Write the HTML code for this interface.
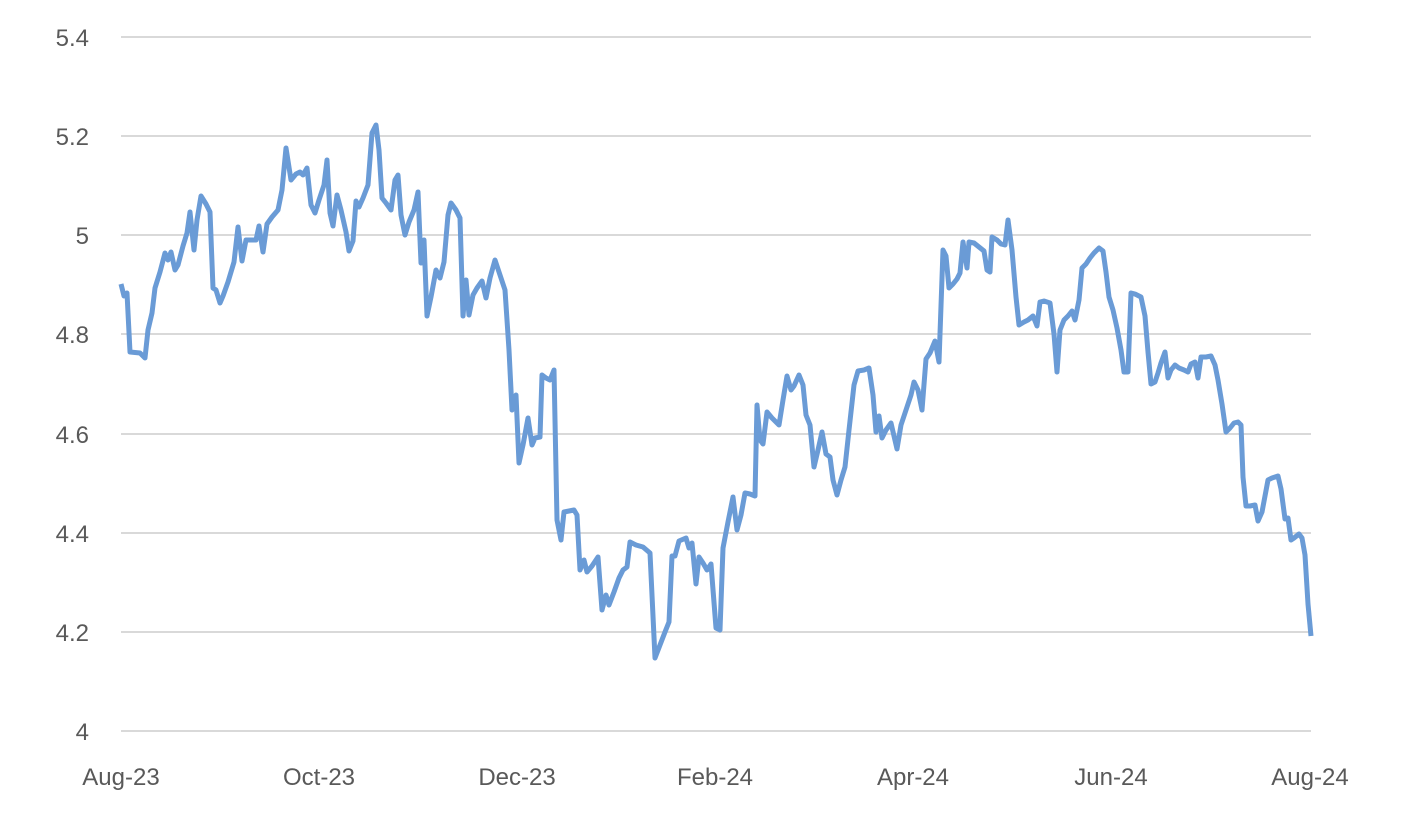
<!DOCTYPE html>
<html><head><meta charset="utf-8"><style>
html,body{margin:0;padding:0;background:#fff;}
svg{display:block;}
text{font-family:"Liberation Sans",sans-serif;font-size:24px;fill:#595959;}
</style></head><body>
<svg width="1402" height="820" viewBox="0 0 1402 820">
<g stroke="#d9d9d9" stroke-width="2">
<line x1="121" x2="1311" y1="37" y2="37"/>
<line x1="121" x2="1311" y1="136" y2="136"/>
<line x1="121" x2="1311" y1="235" y2="235"/>
<line x1="121" x2="1311" y1="334" y2="334"/>
<line x1="121" x2="1311" y1="434" y2="434"/>
<line x1="121" x2="1311" y1="533" y2="533"/>
<line x1="121" x2="1311" y1="632" y2="632"/>
<line x1="121" x2="1311" y1="731" y2="731"/>
</g>
<g text-anchor="end">
<text x="89" y="46">5.4</text>
<text x="89" y="145">5.2</text>
<text x="89" y="244">5</text>
<text x="89" y="343">4.8</text>
<text x="89" y="443">4.6</text>
<text x="89" y="542">4.4</text>
<text x="89" y="641">4.2</text>
<text x="89" y="740">4</text>
</g>
<g text-anchor="middle">
<text x="121" y="785">Aug-23</text>
<text x="319" y="785">Oct-23</text>
<text x="517" y="785">Dec-23</text>
<text x="715" y="785">Feb-24</text>
<text x="913" y="785">Apr-24</text>
<text x="1111" y="785">Jun-24</text>
<text x="1310" y="785">Aug-24</text>
</g>
<polyline fill="none" stroke="#6a9bd6" stroke-width="5" stroke-linejoin="round" points="121,284 124,296 127,293 130,352 140,353 145,358 148,330 152,313 155,288 160,272 165,253 168,260 171,252 175,270 178,265 183,246 187,233 190,212 194,250 197,220 201,196 206,204 210,212 213,288 216,290 220,303 223,296 228,282 234,262 238,227 242,261 246,240 252,240 256,240 259,226 263,252 267,224 272,217 278,210 282,190 286,148 291,180 296,174 300,172 303,175 307,168 311,205 315,213 319,200 324,185 327,160 330,213 333,226 337,195 341,210 346,232 349,251 353,241 356,201 359,207 363,198 368,185 372,133 376,125 379,150 382,198 386,203 391,210 395,180 398,175 401,215 405,235 409,222 414,210 418,192 421,263 424,240 427,316 431,297 436,270 440,278 444,262 448,215 451,203 456,210 460,218 463,316 466,280 469,315 473,295 477,288 482,281 486,298 490,278 495,260 500,275 505,290 509,350 512,410 516,395 519,463 523,445 528,418 532,445 535,438 540,437 542,375 546,378 550,380 554,370 557,520 561,540 564,512 569,511 574,510 577,515 580,570 584,560 587,572 592,566 598,557 602,610 606,595 609,605 614,592 619,578 623,570 627,567 630,542 636,545 643,547 650,553 655,658 660,645 665,632 669,622 672,556 675,556 679,541 686,538 689,548 692,543 696,584 699,557 703,563 707,570 711,564 716,628 720,630 723,548 728,522 733,497 737,530 741,515 745,493 750,494 755,496 757,405 760,440 763,444 767,412 772,418 779,425 783,400 787,376 791,390 794,386 799,375 803,385 806,415 810,425 814,467 818,450 822,432 826,454 830,457 833,480 837,495 841,480 845,467 849,430 854,385 858,371 864,370 869,368 873,395 876,432 879,416 882,438 886,430 891,423 897,449 901,425 906,410 911,395 914,382 918,390 922,410 926,359 930,353 935,341 939,362 943,250 946,256 949,288 953,284 957,279 960,273 963,242 967,268 969,242 974,243 979,247 984,251 987,270 990,272 992,237 997,240 1001,244 1005,245 1008,220 1012,250 1016,297 1019,325 1024,322 1028,320 1033,316 1037,326 1040,302 1044,301 1050,303 1054,334 1057,372 1060,330 1064,320 1068,316 1072,311 1075,320 1079,300 1082,268 1086,264 1090,258 1094,253 1099,248 1103,251 1106,272 1109,297 1113,310 1117,328 1121,350 1124,372 1128,372 1131,293 1135,294 1141,297 1145,316 1148,352 1151,384 1155,382 1158,373 1161,363 1165,352 1168,378 1171,370 1175,365 1179,368 1184,370 1188,372 1191,364 1195,362 1198,378 1201,357 1206,357 1211,356 1215,365 1218,380 1222,404 1226,432 1230,428 1234,423 1238,422 1241,425 1243,477 1246,506 1250,506 1255,505 1258,521 1262,512 1268,480 1272,478 1278,476 1281,489 1285,519 1288,518 1291,540 1294,538 1299,534 1302,538 1305,555 1308,604 1311,636"/>
</svg>
</body></html>
